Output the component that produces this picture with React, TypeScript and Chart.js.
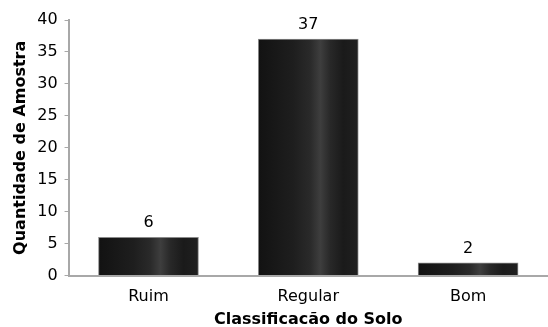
import React, { useEffect, useRef } from "react";
import { Chart, registerables } from "chart.js";

Chart.register(...registerables);

const categories = ["Ruim", "Regular", "Bom"];
const values = [6, 37, 2];
const yTicks = [0, 5, 10, 15, 20, 25, 30, 35, 40];
const xTitle = "Classificacão do Solo";
const yTitle = "Quantidade de Amostra";

const FONT = "'DejaVu Sans', Verdana, sans-serif";
const FS = 16;

const labelPlugin = {
  id: "barLabels",
  afterDatasetsDraw(chart: any) {
    const ctx = chart.ctx;
    const meta = chart.getDatasetMeta(0);
    ctx.save();
    ctx.font = `${FS}px ${FONT}`;
    ctx.fillStyle = "#000";
    ctx.textAlign = "center";
    ctx.textBaseline = "alphabetic";
    meta.data.forEach((el: any, i: number) => {
      ctx.fillText(String(values[i]), el.x, el.y - 10);
    });
    ctx.restore();
  },
};

export default function App() {
  const ref = useRef<HTMLCanvasElement | null>(null);
  useEffect(() => {
    if (!ref.current) return;
    const chart = new Chart(ref.current, {
      type: "bar",
      data: {
        labels: categories,
        datasets: [
          {
            data: values,
            backgroundColor: (c: any) => {
              const ch = c.chart;
              const xs = ch.scales && ch.scales.x;
              if (!xs || c.dataIndex === undefined) return "#1a1a1a";
              const cx = xs.getPixelForValue(c.dataIndex);
              if (!isFinite(cx)) return "#1a1a1a";
              const half = 50;
              const g = ch.ctx.createLinearGradient(cx - half, 0, cx + half, 0);
              g.addColorStop(0, "#121212");
              g.addColorStop(0.35, "#1e1e1e");
              g.addColorStop(0.52, "#2a2a2a");
              g.addColorStop(0.62, "#3e3e3e");
              g.addColorStop(0.72, "#282828");
              g.addColorStop(0.85, "#1a1a1a");
              g.addColorStop(1, "#202020");
              return g;
            },
            borderColor: "#8a8a8a",
            borderWidth: 1,
            barThickness: 100,
          },
        ],
      },
      options: {
        animation: false,
        responsive: false,
        maintainAspectRatio: false,
        layout: { padding: { top: 20, right: 0, left: 0, bottom: 0 } },
        plugins: {
          legend: { display: false },
          tooltip: { enabled: false },
        },
        scales: {
          x: {
            grid: { display: false, drawTicks: false },
            border: { color: "#a8a8a8", width: 2 },
            ticks: { font: { family: FONT, size: FS }, color: "#000", padding: 12 },
            title: {
              display: true,
              text: xTitle,
              font: { family: FONT, size: FS, weight: "bold" },
              color: "#000",
              padding: { top: -9, bottom: -2 },
            },
          },
          y: {
            min: 0,
            max: 40,
            afterBuildTicks: (axis: any) => {
              axis.ticks = yTicks.map((v) => ({ value: v }));
            },
            grid: { display: true, drawOnChartArea: false, drawTicks: true, tickLength: 4, color: "#a8a8a8" },
            border: { color: "#a8a8a8", width: 2 },
            ticks: { font: { family: FONT, size: FS }, color: "#000", padding: 7 },
            title: {
              display: true,
              text: yTitle,
              font: { family: FONT, size: FS, weight: "bold" },
              color: "#000",
              padding: { top: 11, bottom: 0 },
            },
          },
        },
      },
      plugins: [labelPlugin],
    });
    return () => chart.destroy();
  }, []);
  return (
    <div style={{ position: "fixed", left: 0, top: 0, width: 548, height: 327 }}>
      <canvas ref={ref} width={548} height={327} style={{ display: "block" }} />
    </div>
  );
}
